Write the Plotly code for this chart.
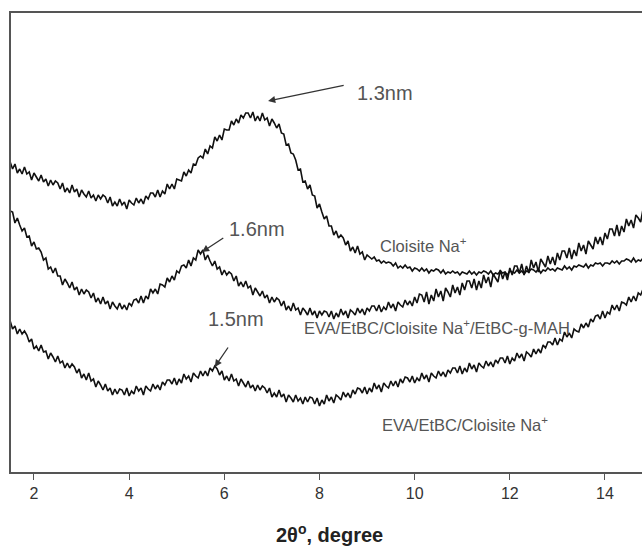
import plotly.graph_objects as go

two_theta = [
    1.50, 1.55, 1.60, 1.65, 1.70, 1.75, 1.80, 1.85, 1.90, 1.95,
    2.00, 2.05, 2.10, 2.15, 2.20, 2.25, 2.30, 2.35, 2.40, 2.45,
    2.50, 2.55, 2.60, 2.65, 2.70, 2.75, 2.80, 2.85, 2.90, 2.95,
    3.00, 3.05, 3.10, 3.15, 3.20, 3.25, 3.30, 3.35, 3.40, 3.45,
    3.50, 3.55, 3.60, 3.65, 3.70, 3.75, 3.80, 3.85, 3.90, 3.95,
    4.00, 4.05, 4.10, 4.15, 4.20, 4.25, 4.30, 4.35, 4.40, 4.45,
    4.50, 4.55, 4.60, 4.65, 4.70, 4.75, 4.80, 4.85, 4.90, 4.95,
    5.00, 5.05, 5.10, 5.15, 5.20, 5.25, 5.30, 5.35, 5.40, 5.45,
    5.50, 5.55, 5.60, 5.65, 5.70, 5.75, 5.80, 5.85, 5.90, 5.95,
    6.00, 6.05, 6.10, 6.15, 6.20, 6.25, 6.30, 6.35, 6.40, 6.45,
    6.50, 6.55, 6.60, 6.65, 6.70, 6.75, 6.80, 6.85, 6.90, 6.95,
    7.00, 7.05, 7.10, 7.15, 7.20, 7.25, 7.30, 7.35, 7.40, 7.45,
    7.50, 7.55, 7.60, 7.65, 7.70, 7.75, 7.80, 7.85, 7.90, 7.95,
    8.00, 8.05, 8.10, 8.15, 8.20, 8.25, 8.30, 8.35, 8.40, 8.45,
    8.50, 8.55, 8.60, 8.65, 8.70, 8.75, 8.80, 8.85, 8.90, 8.95,
    9.00, 9.05, 9.10, 9.15, 9.20, 9.25, 9.30, 9.35, 9.40, 9.45,
    9.50, 9.55, 9.60, 9.65, 9.70, 9.75, 9.80, 9.85, 9.90, 9.95,
    10.00, 10.05, 10.10, 10.15, 10.20, 10.25, 10.30, 10.35, 10.40, 10.45,
    10.50, 10.55, 10.60, 10.65, 10.70, 10.75, 10.80, 10.85, 10.90, 10.95,
    11.00, 11.05, 11.10, 11.15, 11.20, 11.25, 11.30, 11.35, 11.40, 11.45,
    11.50, 11.55, 11.60, 11.65, 11.70, 11.75, 11.80, 11.85, 11.90, 11.95,
    12.00, 12.05, 12.10, 12.15, 12.20, 12.25, 12.30, 12.35, 12.40, 12.45,
    12.50, 12.55, 12.60, 12.65, 12.70, 12.75, 12.80, 12.85, 12.90, 12.95,
    13.00, 13.05, 13.10, 13.15, 13.20, 13.25, 13.30, 13.35, 13.40, 13.45,
    13.50, 13.55, 13.60, 13.65, 13.70, 13.75, 13.80, 13.85, 13.90, 13.95,
    14.00, 14.05, 14.10, 14.15, 14.20, 14.25, 14.30, 14.35, 14.40, 14.45,
    14.50, 14.55, 14.60, 14.65, 14.70, 14.75, 14.80]

# Cloisite Na+ (top pattern)
cloisite_na = [
    311, 304, 309, 300, 304, 299, 306, 299, 301, 293, 300, 296, 292, 298, 291, 294, 287, 293, 288, 292,
    290, 284, 290, 281, 285, 280, 288, 281, 284, 276, 283, 279, 276, 282, 275, 278, 272, 278, 274, 278,
    276, 270, 276, 267, 271, 267, 274, 268, 271, 264, 273, 270, 268, 275, 270, 274, 269, 277, 274, 280,
    280, 276, 283, 276, 282, 279, 289, 284, 289, 284, 294, 293, 292, 301, 297, 303, 300, 309, 308, 315,
    317, 315, 324, 319, 327, 325, 336, 332, 338, 333, 344, 343, 343, 352, 348, 354, 350, 358, 355, 360,
    360, 355, 361, 352, 357, 352, 360, 353, 355, 347, 354, 350, 345, 349, 340, 339, 328, 329, 320, 319,
    313, 303, 304, 291, 292, 284, 288, 278, 277, 265, 269, 261, 254, 257, 247, 247, 238, 242, 235, 238,
    235, 228, 232, 222, 226, 220, 227, 219, 221, 213, 218, 216, 214, 216, 212, 213, 210, 212, 210, 211,
    210, 207, 210, 205, 207, 205, 208, 205, 206, 202, 205, 204, 202, 205, 202, 204, 200, 203, 202, 204,
    203, 200, 203, 199, 201, 200, 202, 200, 201, 198, 201, 200, 199, 202, 199, 201, 198, 201, 200, 202,
    201, 199, 202, 198, 200, 199, 202, 200, 201, 198, 202, 201, 200, 203, 200, 202, 199, 202, 201, 204,
    203, 201, 204, 200, 203, 202, 205, 203, 204, 202, 205, 204, 203, 207, 204, 206, 203, 207, 206, 208,
    207, 206, 209, 205, 208, 207, 210, 209, 210, 207, 210, 210, 209, 212, 210, 212, 209, 212, 212, 214,
    213, 211, 215, 211, 213, 212, 215]

# EVA/EtBC/Cloisite Na+/EtBC-g-MAH (middle pattern)
eva_etbc_na_mah = [
    262, 261, 250, 255, 248, 242, 245, 236, 237, 227, 231, 224, 225, 221, 213, 215, 204, 206, 200, 205,
    197, 197, 188, 194, 190, 185, 191, 183, 186, 178, 184, 179, 183, 181, 175, 180, 171, 175, 169, 176,
    169, 172, 164, 171, 167, 164, 170, 164, 168, 163, 170, 167, 173, 174, 170, 177, 170, 177, 174, 184,
    180, 184, 179, 189, 188, 186, 195, 191, 197, 193, 202, 200, 207, 208, 205, 213, 207, 215, 213, 223,
    219, 223, 213, 218, 212, 207, 212, 204, 206, 198, 203, 198, 201, 199, 192, 197, 187, 191, 186, 192,
    185, 187, 178, 185, 181, 177, 182, 175, 178, 170, 176, 171, 175, 173, 167, 172, 163, 167, 162, 170,
    163, 165, 158, 165, 162, 158, 165, 158, 162, 155, 162, 158, 162, 161, 156, 162, 154, 160, 156, 164,
    158, 162, 155, 163, 161, 158, 165, 160, 164, 158, 165, 162, 167, 167, 162, 168, 161, 166, 163, 171,
    165, 169, 162, 171, 168, 166, 173, 168, 172, 167, 176, 170, 179, 178, 171, 181, 169, 178, 172, 184,
    176, 182, 172, 185, 181, 176, 188, 180, 186, 178, 190, 183, 192, 192, 185, 194, 183, 192, 185, 198,
    190, 196, 186, 199, 195, 191, 203, 194, 201, 193, 205, 198, 207, 207, 200, 209, 198, 207, 200, 213,
    205, 211, 201, 214, 210, 206, 217, 209, 216, 208, 220, 213, 222, 222, 215, 225, 214, 223, 217, 230,
    222, 228, 219, 232, 228, 224, 236, 229, 236, 228, 240, 234, 244, 244, 237, 248, 237, 247, 241, 254,
    247, 253, 245, 258, 255, 251, 264]

# EVA/EtBC/Cloisite Na+ (bottom pattern)
eva_etbc_na = [
    152, 144, 147, 139, 144, 139, 142, 138, 131, 134, 124, 127, 122, 128, 121, 122, 114, 120, 116, 111,
    117, 110, 112, 105, 110, 105, 109, 106, 100, 104, 95, 99, 93, 100, 92, 94, 86, 92, 88, 83,
    89, 82, 85, 78, 84, 79, 84, 83, 78, 85, 77, 82, 79, 87, 82, 85, 78, 87, 84, 82,
    89, 84, 88, 83, 91, 88, 93, 93, 89, 95, 88, 94, 90, 99, 94, 97, 91, 100, 97, 95,
    102, 97, 102, 97, 105, 102, 107, 104, 98, 102, 93, 97, 92, 99, 92, 94, 87, 94, 90, 86,
    92, 85, 88, 82, 88, 83, 87, 85, 80, 85, 76, 80, 76, 83, 76, 79, 71, 78, 75, 71,
    78, 72, 75, 69, 76, 71, 76, 75, 69, 75, 67, 73, 69, 78, 72, 76, 70, 78, 76, 73,
    81, 76, 80, 75, 83, 79, 85, 84, 80, 86, 79, 85, 81, 90, 84, 88, 81, 90, 87, 85,
    92, 87, 92, 86, 94, 90, 96, 95, 91, 97, 90, 95, 92, 100, 94, 98, 91, 100, 97, 95,
    102, 97, 101, 96, 103, 100, 105, 105, 100, 107, 99, 105, 101, 110, 104, 108, 101, 110, 107, 105,
    112, 107, 111, 106, 113, 110, 115, 115, 110, 117, 109, 115, 112, 120, 115, 119, 112, 121, 119, 116,
    124, 119, 124, 120, 128, 125, 131, 131, 128, 135, 128, 134, 132, 141, 136, 140, 135, 144, 142, 141,
    149, 145, 150, 146, 154, 151, 157, 158, 154, 162, 155, 161, 159, 168, 163, 168, 162, 171, 170, 168,
    176, 171, 177, 172, 180, 178, 184]

x_ticks = [2, 4, 6, 8, 10, 12, 14]

fig = go.Figure()
for ys in (cloisite_na, eva_etbc_na_mah, eva_etbc_na):
    fig.add_trace(go.Scatter(x=two_theta, y=ys, mode="lines",
                             line=dict(color="#111111", width=1.6),
                             showlegend=False, hoverinfo="skip"))

FONT = "Liberation Sans, Arial, sans-serif"
GREY = "#555555"

annotations = []
# d-spacing labels
for txt, x, y in [("1.3nm", 8.75, 380), ("1.6nm", 6.06, 244), ("1.5nm", 5.615, 154)]:
    annotations.append(dict(x=x, y=y, xref="x", yref="y", text=txt, showarrow=False,
                            xanchor="left", yanchor="middle",
                            font=dict(family=FONT, size=20, color=GREY)))
# arrows
for hx, hy, tx, ty in [(6.92, 372, 8.54, 388), (5.53, 221, 6.01, 236), (5.80, 106, 6.10, 127)]:
    annotations.append(dict(x=hx, y=hy, ax=tx, ay=ty, xref="x", yref="y", axref="x", ayref="y",
                            text="", showarrow=True, arrowhead=2, arrowsize=1.1,
                            arrowwidth=1.3, arrowcolor="#333333"))
# curve labels
for txt, x, y in [("Cloisite Na<sup>+</sup>", 9.23, 228),
                  ("EVA/EtBC/Cloisite Na<sup>+</sup>/EtBC-g-MAH", 7.63, 146),
                  ("EVA/EtBC/Cloisite Na<sup>+</sup>", 9.27, 49)]:
    annotations.append(dict(x=x, y=y, xref="x", yref="y", text=txt, showarrow=False,
                            xanchor="left", yanchor="middle",
                            font=dict(family=FONT, size=16.5, color=GREY)))
# x-axis title
annotations.append(dict(x=0.505, y=0, xref="paper", yref="paper", yshift=-61,
                        text="<b>2θ<sup>o</sup>, degree</b>", showarrow=False,
                        xanchor="center", yanchor="middle",
                        font=dict(family=FONT, size=20, color="#222222")))

fig.update_layout(
    width=642, height=549,
    margin=dict(l=11, r=0, t=13, b=77),
    paper_bgcolor="white", plot_bgcolor="white",
    annotations=annotations,
    xaxis=dict(range=[1.517, 14.778], tickvals=x_ticks, ticktext=[str(t) for t in x_ticks],
               showline=True, linecolor="#555555", linewidth=1.6, mirror=True,
               ticks="outside", ticklen=6, tickwidth=1.4, tickcolor="#555555",
               showgrid=False, zeroline=False, automargin=False,
               tickfont=dict(family=FONT, size=16, color="#333333")),
    yaxis=dict(range=[1, 460], showline=True, linecolor="#555555", linewidth=1.6,
               mirror=False, showticklabels=False, ticks="", showgrid=False,
               zeroline=False, automargin=False),
)

fig.write_html("out.html",
               config={"displayModeBar": False},
               post_script="document.body.style.margin='0';"
                           "document.body.style.overflow='hidden';")
